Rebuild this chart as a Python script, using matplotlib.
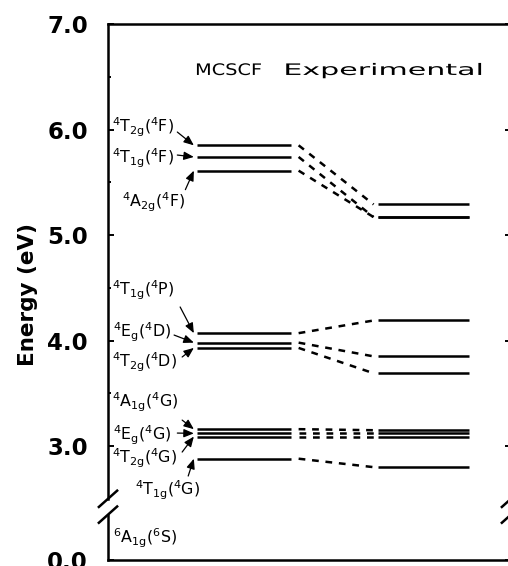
import matplotlib
matplotlib.use('Agg')
import matplotlib.pyplot as plt
from matplotlib import patheffects
from matplotlib.transforms import Affine2D

# term energies in eV
state_names = [r'$^4T_{2g}(^4F)$', r'$^4T_{1g}(^4F)$', r'$^4A_{2g}(^4F)$',
               r'$^4T_{1g}(^4P)$', r'$^4E_g(^4D)$', r'$^4T_{2g}(^4D)$',
               r'$^4A_{1g}(^4G)$', r'$^4E_g(^4G)$', r'$^4T_{2g}(^4G)$',
               r'$^4T_{1g}(^4G)$']
mcscf_energy = [5.85, 5.74, 5.61, 4.07, 3.98, 3.93, 3.16, 3.12, 3.09, 2.88]
exp_energy = [5.29, 5.17, 5.17, 4.19, 3.85, 3.69, 3.15, 3.12, 3.09, 2.80]
ground_name = r'$^6A_{1g}(^6S)$'
ground_energy = 0.0

y_ticks = [0.0, 3.0, 4.0, 5.0, 6.0, 7.0]
y_tick_labels = ['0.0', '3.0', '4.0', '5.0', '6.0', '7.0']
y_minor = [3.5, 4.5, 5.5, 6.5]

# layout of the broken axis
Y_TOP = 7.0
Y_BOTTOM = 1.92          # where 0.0 is drawn
BREAK_LO, BREAK_HI = 2.35, 2.50

# label placement (x in axes fraction, y in axis units, baseline)
label_x = [0.01, 0.01, 0.035, 0.01, 0.012, 0.01, 0.01, 0.012, 0.01, 0.067]
label_y = [5.976, 5.682, 5.265, 4.431, 4.033, 3.749, 3.370, 3.057, 2.839, 2.535]
arrow_tail = [(0.172, 5.976), (0.172, 5.758), (0.192, 5.43), (0.179, 4.318),
              (0.164, 4.052), (0.184, 3.844), (0.184, 3.246), (0.172, 3.123),
              (0.184, 2.943), (0.199, 2.716)]

LW = 1.8
mcscf_x = (0.221, 0.453)
link_x = (0.473, 0.659)
exp_x = (0.669, 0.896)


def to_axis(e):
    # everything below the break sits at the bottom of the axis
    return e if e > BREAK_HI else Y_BOTTOM


class StretchX(patheffects.AbstractPathEffect):
    # widen text horizontally (the original lettering is very wide)
    def __init__(self, sx):
        super().__init__()
        self.sx = sx

    def draw_path(self, renderer, gc, tpath, affine, rgbFace=None):
        renderer.draw_path(gc, tpath, Affine2D().scale(self.sx, 1) + affine, rgbFace)


plt.rcParams['font.family'] = ['DejaVu Sans']
plt.rcParams['mathtext.default'] = 'regular'

fig = plt.figure(figsize=(5.08, 5.66), dpi=100)
ax = fig.add_axes([108 / 508, 6 / 566, 403 / 508, 536 / 566])
ax.set_xlim(0, 1)
ax.set_ylim(Y_BOTTOM, Y_TOP)

# levels and dashed correlation lines
for m, x in zip(mcscf_energy, exp_energy):
    ax.plot(mcscf_x, [m, m], color='k', lw=LW, solid_capstyle='butt')
    ax.plot(link_x, [m, x], color='k', lw=LW, dashes=(2.7, 2.7))
    ax.plot(exp_x, [x, x], color='k', lw=LW, solid_capstyle='butt')

# state labels with arrows
for name, lx, ly, tail, e in zip(state_names, label_x, label_y, arrow_tail, mcscf_energy):
    ax.text(lx, ly, name, fontsize=11.4, ha='left', va='baseline')
    ax.annotate('', xy=(0.213, e), xytext=tail,
                arrowprops=dict(arrowstyle='-|>,head_length=0.6,head_width=0.25',
                                color='k', lw=0.9, shrinkA=0, shrinkB=0))
ax.text(0.012, 2.081, ground_name, fontsize=11.4, ha='left', va='baseline')

ax.text(0.216, 6.517, 'MCSCF', fontsize=11.4, ha='left', va='baseline',
        path_effects=[StretchX(1.22)])
ax.text(0.435, 6.517, 'Experimental', fontsize=11.4, ha='left', va='baseline',
        path_effects=[StretchX(1.9)])

# axis frame with a break on both sides
for side in ['left', 'right']:
    ax.spines[side].set_visible(False)
for side in ['top', 'bottom']:
    ax.spines[side].set_linewidth(LW)
for sx in [0, 1]:
    ax.plot([sx, sx], [Y_BOTTOM, BREAK_LO], color='k', lw=LW, clip_on=False)
    ax.plot([sx, sx], [BREAK_HI, Y_TOP], color='k', lw=LW, clip_on=False)
    for c in [BREAK_LO, BREAK_HI]:
        ax.plot([sx - 0.025, sx + 0.025], [c - 0.085, c + 0.085],
                color='k', lw=LW, clip_on=False, solid_capstyle='butt')

ax.set_xticks([])
ax.set_yticks([to_axis(t) for t in y_ticks])
ax.set_yticklabels(y_tick_labels, fontsize=16.5, fontweight='bold')
ax.set_yticks(y_minor, minor=True)
ax.tick_params(axis='y', which='both', direction='in', left=True, right=True,
               width=1.4, pad=14.4)
ax.tick_params(axis='y', which='major', length=4.3)
ax.tick_params(axis='y', which='minor', length=2.2)

ax.set_ylabel('Energy (eV)', fontsize=15.5, fontweight='bold')
ax.yaxis.set_label_coords(-0.174, 0.496)

plt.savefig('out.png', dpi=100)
